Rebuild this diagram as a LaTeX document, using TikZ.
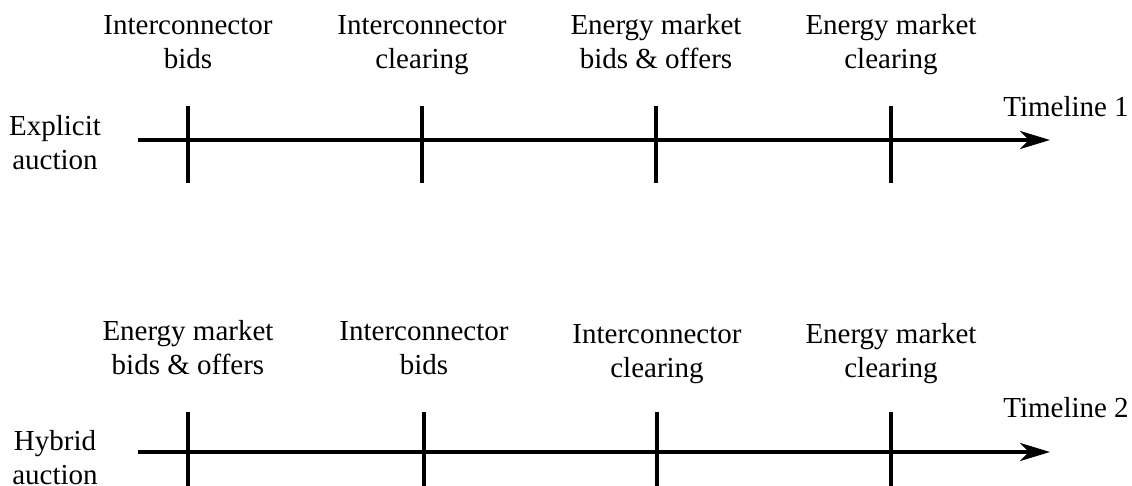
\documentclass[tikz,border=0pt]{standalone}
\usepackage{fontspec}
\setmainfont{LiberationSerif}[Extension=.ttf, UprightFont=*-Regular, BoldFont=*-Bold]
\usetikzlibrary{arrows.meta}
\tikzset{
  axis/.style={line width=4pt, -{Stealth[length=30pt,width=18pt,inset=9pt]}},
  tick/.style={line width=4pt},
  lbl/.style={align=center, inner sep=0pt, anchor=base,
    font=\rmfamily\fontsize{29}{34}\selectfont},
}
\begin{document}
\begin{tikzpicture}[x=1pt,y=-1pt]
\useasboundingbox (0,0) rectangle (1132,486);

% ---- Timeline 1: explicit auction ----
\coordinate (s1) at (138,140);
\coordinate (e1) at (1050,140);
\draw[axis] (s1) -- (e1);
\foreach \x/\n in {188/a,422/b,656/c,891/d}{
  \coordinate (t1\n) at (\x,106);
  \coordinate (b1\n) at (\x,183);
  \draw[tick] (t1\n) -- (b1\n);
}
\node[lbl] (l1a) at (188,69) {Interconnector\\bids};
\node[lbl] (l1b) at (422,69) {Interconnector\\clearing};
\node[lbl] (l1c) at (656,69) {Energy market\\bids \& offers};
\node[lbl] (l1d) at (891,69) {Energy market\\clearing};
\node[lbl] (row1) at (55,170) {Explicit\\auction};
\node[lbl] (tl1) at (1066,117) {Timeline 1};

% ---- Timeline 2: hybrid auction ----
\coordinate (s2) at (138,452);
\coordinate (e2) at (1050,452);
\draw[axis] (s2) -- (e2);
\foreach \x/\n in {188/a,424/b,657/c,891/d}{
  \coordinate (t2\n) at (\x,412);
  \coordinate (b2\n) at (\x,492);
  \draw[tick] (t2\n) -- (b2\n);
}
\node[lbl] (l2a) at (188,374) {Energy market\\bids \& offers};
\node[lbl] (l2b) at (424,374) {Interconnector\\bids};
\node[lbl] (l2c) at (657,377) {Interconnector\\clearing};
\node[lbl] (l2d) at (891,377) {Energy market\\clearing};
\node[lbl] (row2) at (55,484) {Hybrid\\auction};
\node[lbl] (tl2) at (1066,417) {Timeline 2};
\end{tikzpicture}
\end{document}
